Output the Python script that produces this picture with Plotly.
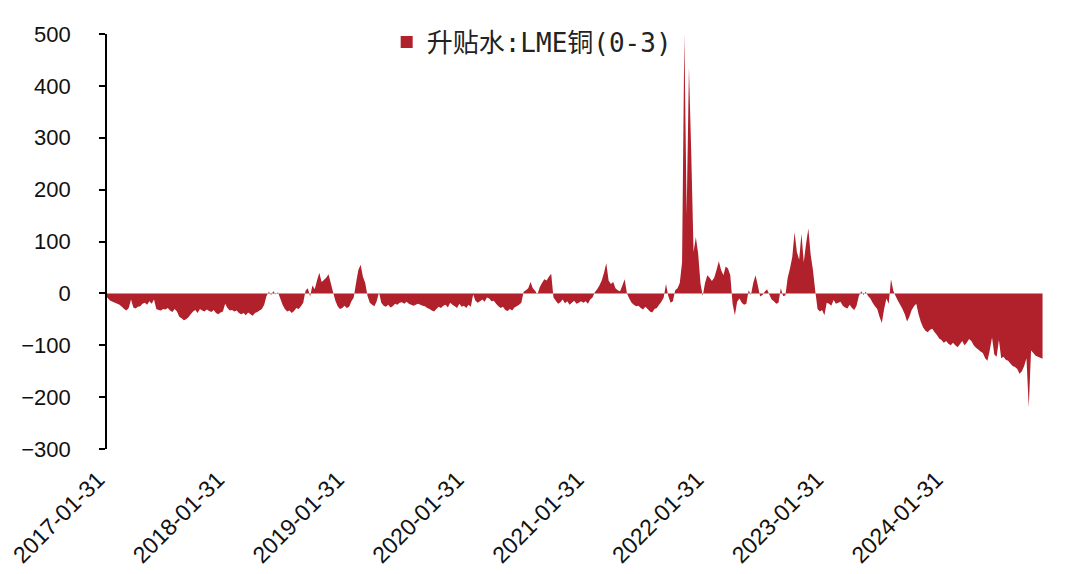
import pandas as pd
import plotly.graph_objects as go


RED = "#B0212B"
TEXT = "#111111"

NAME = "升贴水:LME铜(0-3)"

# weekly readings of the spread, one list per year
v2017 = [-4, -10, -14, -16, -18, -20, -22, -26, -30, -33,
         -28, -12, -27, -29, -26, -25, -20, -18, -22, -15,
         -20, -12, -30, -32, -33, -30, -31, -28, -33, -36,
         -30, -35, -45, -48, -52, -50, -46, -40, -35, -32,
         -38, -30, -33, -35, -31, -34, -36, -32, -38, -40,
         -37, -35]
v2018 = [-20, -28, -33, -32, -35, -33, -38, -40, -38, -42,
         -37, -40, -43, -38, -36, -33, -30, -22, -5, 3,
         -3, 4, -2, 2, -10, -22, -30, -35, -33, -38,
         -34, -28, -30, -25, -18, 5, 10, -6, 15, 8,
         25, 40, 22, 26, 30, 37, 20, 2, -14, -25,
         -30, -28]
v2019 = [-24, -28, -26, -15, -8, 20, 45, 55, 32, 20,
         -5, -18, -22, -25, -15, 2, -18, -24, -26, -22,
         -27, -25, -20, -22, -18, -17, -20, -16, -20, -22,
         -24, -22, -20, -22, -24, -25, -28, -30, -33, -35,
         -30, -26, -28, -24, -22, -27, -18, -22, -25, -28,
         -20, -26]
v2020 = [-24, -28, -22, -26, -2, -14, -18, -15, -12, -16,
         -8, -10, -15, -14, -20, -25, -28, -26, -32, -34,
         -30, -33, -27, -25, -22, -18, 3, 6, 10, 22,
         10, 5, -2, 12, 20, 27, 25, 32, 38, -8,
         -14, -20, -17, -12, -19, -15, -22, -18, -14, -20,
         -18, -15]
v2021 = [-18, -15, -20, -12, -8, 2, 8, 15, 25, 40,
         58, 25, 18, 22, 10, 6, 4, 15, 27, 0,
         -10, -18, -22, -25, -24, -28, -31, -26, -30, -35,
         -37, -30, -28, -22, -16, -8, 18, -5, -18, -15,
         6, 10, 20, 60, 500, 150, 435, 270, 80, 108,
         77, 20]
v2022 = [-5, 20, 35, 30, 24, 30, 45, 62, 45, 35,
         52, 48, 35, -20, -42, -16, -10, -18, -22, -20,
         6, -3, 20, 35, 15, -6, -3, 3, 8, -2,
         -12, -15, -20, -18, 10, -5, -4, 30, 48, 70,
         118, 80, 65, 115, 60, 95, 125, 75, 45, 5,
         -30, -35]
v2023 = [-32, -42, -18, -20, -24, -13, -20, -18, -16, -24,
         -27, -29, -22, -28, -32, -24, -5, 4, -3, 3,
         -5, -10, -18, -25, -30, -45, -57, -30, -10, -20,
         27, 5, -5, -14, -22, -30, -40, -54, -45, -32,
         -25, -20, -40, -55, -66, -72, -75, -70, -68, -75,
         -80, -87]
v2024 = [-90, -95, -92, -97, -100, -95, -100, -104, -98, -92,
         -100, -95, -88, -92, -100, -105, -108, -112, -115, -125,
         -130, -110, -85, -118, -122, -90, -125, -122, -128, -130,
         -135, -140, -142, -146, -155, -150, -140, -125, -220, -110,
         -115, -120, -122, -124, -126]

tick_dates = ["2017-01-31", "2018-01-31", "2019-01-31", "2020-01-31",
              "2021-01-31", "2022-01-31", "2023-01-31", "2024-01-31"]

values = v2017 + v2018 + v2019 + v2020 + v2021 + v2022 + v2023 + v2024
dates = pd.date_range("2017-02-24", periods=len(values), freq="W-FRI")


fig = go.Figure()

fig.add_trace(
    go.Scatter(
        x=dates,
        y=values,
        mode="none",
        fill="tozeroy",
        fillcolor=RED,
        showlegend=False,
        hovertemplate="%{x|%Y-%m-%d}<br>%{y}<extra></extra>",
    )
)

# legend swatch (square, like the original)
fig.add_trace(
    go.Bar(
        x=[None],
        y=[None],
        name=NAME,
        marker=dict(color=RED, line_width=0),
    )
)

# the page body adds an 8px offset, so the figure is 8px smaller
fig.update_layout(
    width=1072,
    height=566,
    paper_bgcolor="white",
    plot_bgcolor="white",
    margin=dict(l=84, r=25, t=25, b=125),
    font=dict(family="Liberation Sans, Arial", color=TEXT, size=22),
    showlegend=True,
    legend=dict(
        x=0.306,
        y=0.978,
        xanchor="left",
        yanchor="middle",
        bgcolor="rgba(0,0,0,0)",
        font=dict(family="DejaVu Sans Mono, Noto Sans CJK SC", size=26, color="#222222"),
        itemwidth=30,
    ),
)

# first year label sits left of the value axis, as in the original;
# invisible ticks just push the slanted labels a little lower
fig.update_xaxes(
    type="date",
    range=["2017-01-13", "2025-01-27"],
    tickvals=tick_dates,
    ticktext=tick_dates,
    tickangle=-45,
    ticklabeloverflow="allow",
    automargin=False,
    showline=False,
    showgrid=False,
    zeroline=False,
    ticks="outside",
    ticklen=7,
    tickcolor="rgba(0,0,0,0)",
    tickfont=dict(size=23, color=TEXT),
)

fig.update_yaxes(
    range=[-300, 500],
    tickvals=[-300, -200, -100, 0, 100, 200, 300, 400, 500],
    anchor="free",
    position=0.0145,
    automargin=False,
    showline=True,
    linecolor="black",
    linewidth=1.5,
    ticks="outside",
    ticklen=6,
    tickcolor="black",
    tickwidth=1.5,
    showgrid=False,
    zeroline=False,
    ticklabelstandoff=24,
    tickfont=dict(size=22, color=TEXT),
)

fig.write_html("out.html")
